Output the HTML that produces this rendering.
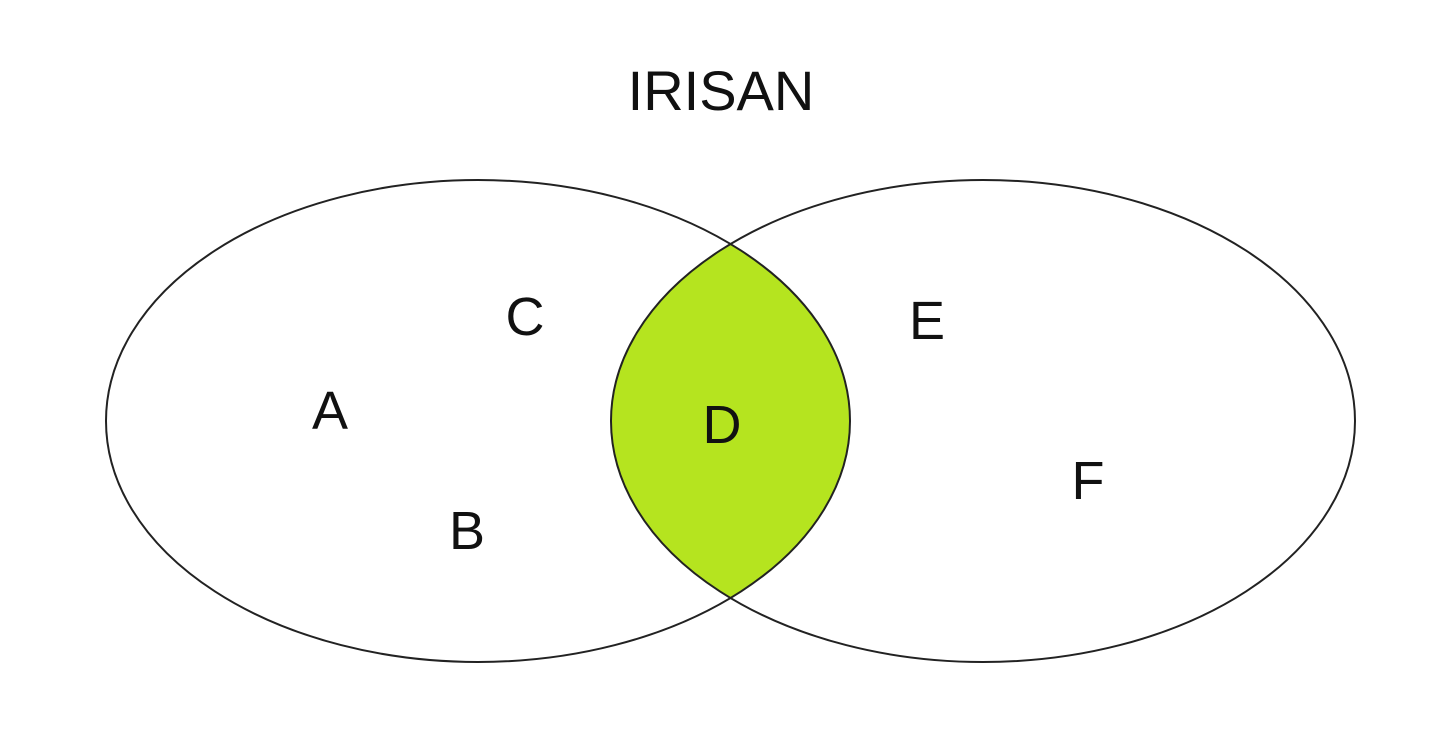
<!DOCTYPE html>
<html><head><meta charset="utf-8"><style>
html,body{margin:0;padding:0;background:#fff;}
svg{display:block}
text{font-family:"Liberation Sans",sans-serif;fill:#111;}
</style></head><body>
<svg width="1440" height="736" viewBox="0 0 1440 736" xmlns="http://www.w3.org/2000/svg">
<rect width="1440" height="736" fill="#fff"/>
<defs>
<clipPath id="cl"><ellipse cx="478" cy="421" rx="372" ry="241"/></clipPath>
</defs>
<ellipse cx="983" cy="421" rx="372" ry="241" fill="#b5e41f" clip-path="url(#cl)"/>
<ellipse cx="478" cy="421" rx="372" ry="241" fill="none" stroke="#222" stroke-width="2"/>
<ellipse cx="983" cy="421" rx="372" ry="241" fill="none" stroke="#222" stroke-width="2"/>
<text x="721" y="110" font-size="56" text-anchor="middle">IRISAN</text>
<g font-size="54" text-anchor="middle">
<text x="525" y="335">C</text>
<text x="330" y="429">A</text>
<text x="467" y="549">B</text>
<text x="722" y="443">D</text>
<text x="927" y="339">E</text>
<text x="1088" y="499">F</text>
</g>
</svg>
</body></html>
